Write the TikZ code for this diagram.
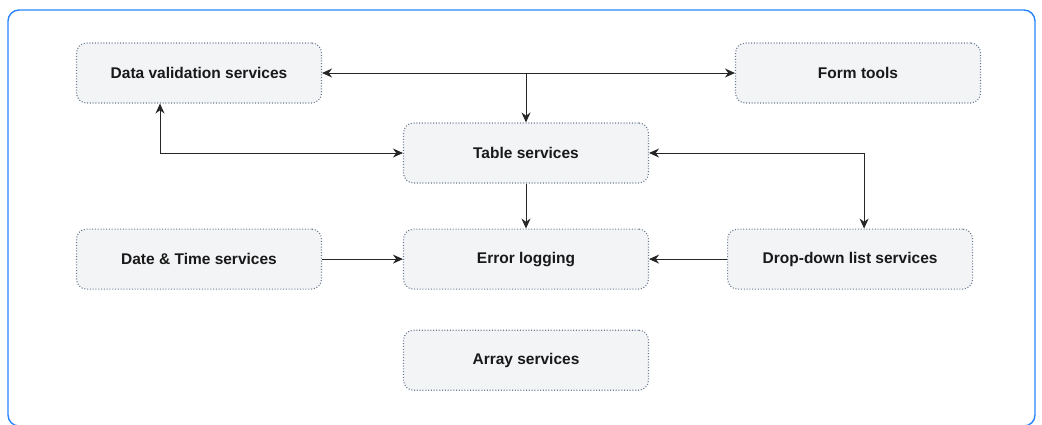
\documentclass[tikz,border=0pt]{standalone}
\usepackage{fontspec}
\setmainfont{Liberation Sans}
\usetikzlibrary{positioning,arrows.meta}
\definecolor{frameblue}{HTML}{2684FF}
\definecolor{boxfill}{HTML}{F3F4F6}
\definecolor{boxline}{HTML}{6B7A90}
\tikzset{svc/.style={draw=boxline,fill=boxfill,dash pattern=on 1pt off 1.8pt,
line width=1.1pt,rounded corners=10pt,minimum width=245pt,minimum
height=60pt,inner sep=0pt,text=black!90,
font=\bfseries\fontsize{15.5}{18}\selectfont}}
\tikzstyle{arrow} = [line width=1pt,draw=black!85,-{Stealth[length=10pt,width=9pt]}]
\tikzstyle{dblarrow} = [arrow,{Stealth[length=10pt,width=9pt]}-{Stealth[length=10pt,width=9pt]}]

\begin{document}
\begin{tikzpicture}[x=1pt,y=-1pt]
		\useasboundingbox (0,0) rectangle (1042,424);
		\draw[frameblue,line width=1.4pt,rounded corners=11pt] (8,10) rectangle (1035,426);

		\node[svc] (table) at (526,153) {Table services};
		\node[svc,below=45pt of table] (errlog) {Error logging};
		\node[svc,below=40pt of errlog] (array) {Array services};
		\node[svc,right=78pt of errlog] (dropdown) {Drop-down list services};
		\node[svc] (valid) at (199,73) {Data validation services};
		\node[svc] (form) at (858,73) {Form tools};
		\node[svc] (datetime) at (valid |- errlog) {Date \& Time services};

		\draw[dblarrow] (valid) -- (form);
		\draw[arrow] (table.north |- valid.east) -- (table.north);
		\draw[dblarrow] ([xshift=-39pt]valid.south) |- (table.west);
		\draw[dblarrow] (table.east) -| ([xshift=14pt]dropdown.north);
		\draw[arrow] (table) -- (errlog);
		\draw[arrow] (datetime) -- (errlog);
		\draw[arrow] (dropdown) -- (errlog);
	\end{tikzpicture}
\end{document}
